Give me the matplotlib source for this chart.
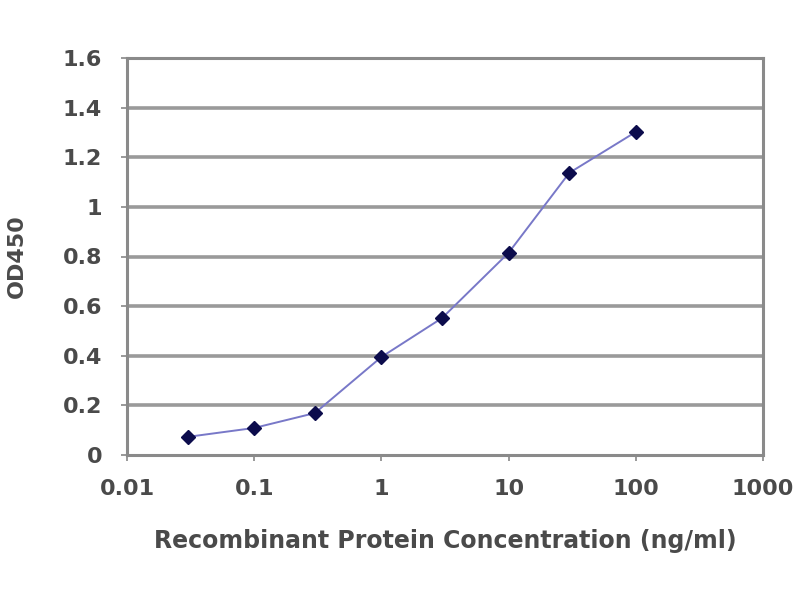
import numpy as np
import matplotlib
matplotlib.use('Agg')
from matplotlib import pyplot as plt

conc = [0.03, 0.1, 0.3, 1, 3, 10, 30, 100]  # ng/ml
od450 = [0.073, 0.109, 0.169, 0.395, 0.552, 0.815, 1.137, 1.302]
x_ticks = [0.01, 0.1, 1, 10, 100, 1000]
x_ticklabels = ['0.01', '0.1', '1', '10', '100', '1000']
y_ticks = [0, 0.2, 0.4, 0.6, 0.8, 1, 1.2, 1.4, 1.6]
y_ticklabels = ['0', '0.2', '0.4', '0.6', '0.8', '1', '1.2', '1.4', '1.6']

plt.rcParams['font.family'] = ['DejaVu Sans']
plt.rcParams['font.weight'] = 'bold'
plt.rcParams['axes.labelweight'] = 'bold'

fig = plt.figure(figsize=(8, 6), dpi=100)
ax = fig.add_axes([127/800, 1 - 455/600, (763-127)/800, (455-58)/600])

# horizontal grid lines (excel style, thick grey)
for y in y_ticks[1:-1]:
    ax.axhline(y, color='#9a9a9a', lw=2.6, zorder=1)

ax.plot(conc, od450, color='#7878c8', lw=1.4, zorder=2)
ax.plot(conc, od450, ls='none', marker='D', ms=7, color='#0c0c4c', zorder=3)

ax.set_xscale('log')
ax.set_xlim(0.01, 1000)
ax.set_ylim(0, 1.6)
ax.set_xticks(x_ticks)
ax.set_xticklabels(x_ticklabels)
ax.set_yticks(y_ticks)
ax.set_yticklabels(y_ticklabels)
ax.minorticks_off()
ax.tick_params(axis='both', labelsize=16, color='#888888', length=4, width=1.2,
               labelcolor='#4a4a4a')
ax.tick_params(axis='y', pad=14)
ax.tick_params(axis='x', pad=13)

for s in ax.spines.values():
    s.set_color('#8a8a8a')
    s.set_linewidth(2.2)

ax.set_ylabel('OD450', fontsize=16, color='#4a4a4a', labelpad=26)
ax.set_xlabel('Recombinant Protein Concentration (ng/ml)', fontsize=17,
              color='#4a4a4a', labelpad=22)

fig.savefig('out.png', dpi=100)
